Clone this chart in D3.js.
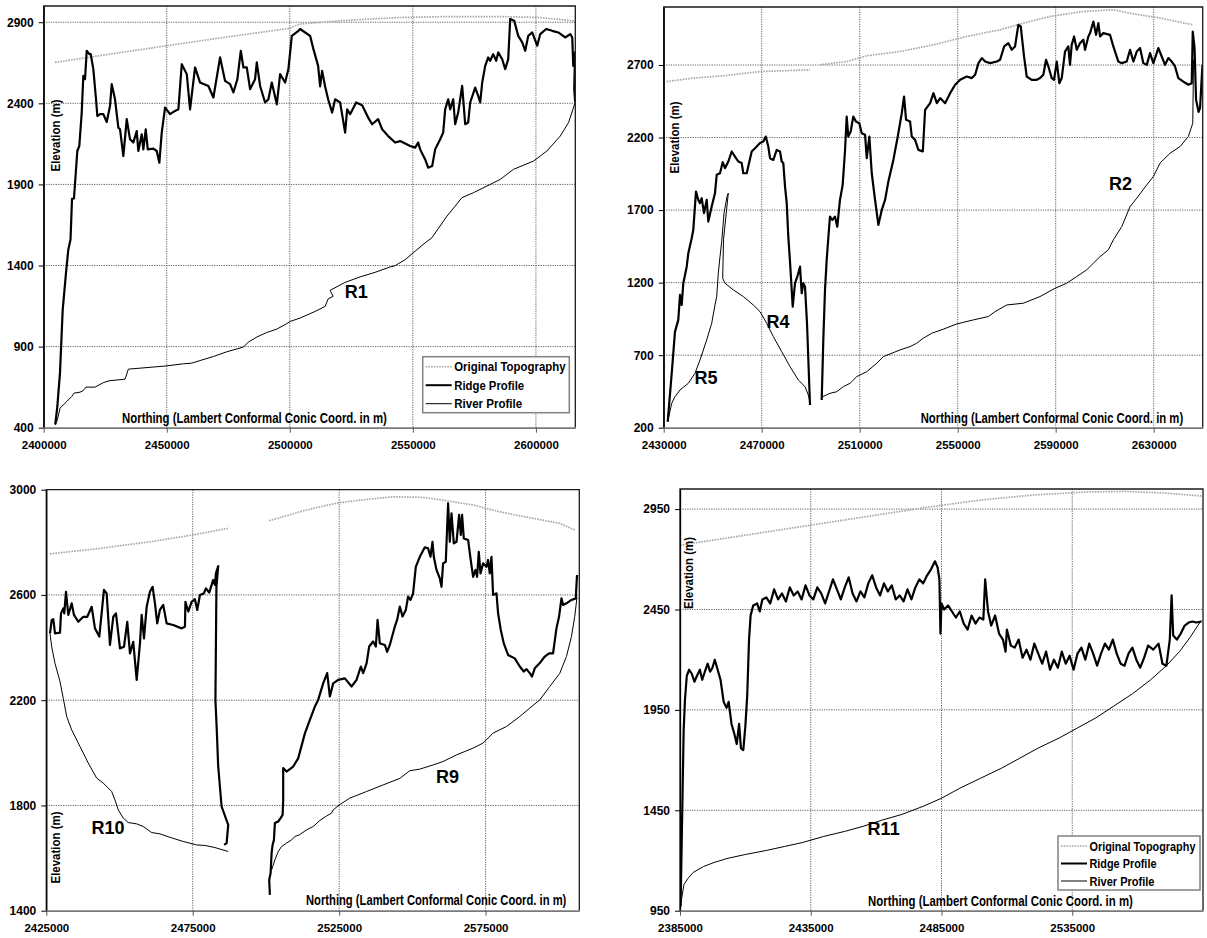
<!DOCTYPE html>
<html><head><meta charset="utf-8">
<script src="https://cdn.jsdelivr.net/npm/d3@7"></script>
<style>
html,body{margin:0;padding:0;background:#fff}
svg{display:block}
text{font-family:"Liberation Sans",Arial,Helvetica,sans-serif;font-weight:bold;fill:#000}
</style></head><body>
<svg id="chart" width="1207" height="938"></svg>
<script>
// ---------- Profile R1 ----------
const r1XTicks = [2400000, 2450000, 2500000, 2550000, 2600000];
const r1YTicks = [400, 900, 1400, 1900, 2400, 2900];
const r1Topo = [[2404590,2652],[2422890,2694],[2450000,2755],[2475730,2812],[2499840,2862],[2504180,2889],[2524510,2913],[2544840,2929],[2565160,2935],[2585490,2935],[2601750,2929],[2616000,2907]];
const r1Ridge = [[2404700,420],[2405530,530],[2406620,738],[2407720,1127],[2409070,1356],[2410000,1498],[2410900,1560],[2411500,1811],[2412300,1813],[2413660,2106],[2414470,2137],[2415450,2343],[2416100,2569],[2416790,2549],[2417480,2724],[2418540,2703],[2419100,2703],[2420160,2611],[2421260,2425],[2421790,2322],[2422890,2333],[2424230,2333],[2425610,2285],[2426950,2384],[2427640,2518],[2428980,2425],[2430330,2250],[2431020,2240],[2432360,2075],[2433740,2302],[2435080,2178],[2436420,2158],[2437800,2229],[2438450,2106],[2439840,2209],[2440490,2116],[2441460,2240],[2442280,2116],[2444550,2121],[2445930,2106],[2446990,2034],[2447960,2219],[2449310,2374],[2451340,2333],[2453370,2353],[2454720,2363],[2456100,2641],[2458130,2580],[2459470,2363],[2461500,2621],[2463540,2528],[2465170,2518],[2466910,2507],[2468950,2436],[2471670,2683],[2473700,2538],[2475730,2518],[2477070,2467],[2478700,2549],[2480080,2724],[2481140,2621],[2482520,2621],[2483860,2487],[2485890,2549],[2486580,2652],[2487930,2507],[2489960,2405],[2491300,2425],[2492680,2528],[2494720,2394],[2496060,2580],[2498090,2528],[2499430,2611],[2500810,2816],[2503500,2847],[2504180,2858],[2508240,2816],[2509600,2734],[2511500,2631],[2512320,2504],[2513130,2600],[2514350,2504],[2515570,2425],[2517200,2343],[2518410,2425],[2520450,2405],[2522480,2219],[2523300,2363],[2524510,2333],[2526950,2405],[2529390,2388],[2531830,2312],[2533450,2271],[2535890,2302],[2537520,2240],[2539960,2198],[2542800,2158],[2544840,2167],[2548900,2137],[2550930,2127],[2552150,2158],[2552970,2116],[2555000,2054],[2556220,2003],[2557840,2013],[2559060,2116],[2561100,2178],[2562320,2219],[2563130,2363],[2564350,2425],[2565160,2363],[2566380,2425],[2567190,2271],[2568410,2343],[2569220,2425],[2570030,2507],[2571260,2271],[2572480,2282],[2573290,2405],[2575320,2497],[2576540,2446],[2577360,2405],[2578170,2528],[2579390,2631],[2580610,2683],[2581420,2662],[2582640,2703],[2583860,2662],[2584670,2714],[2586300,2672],[2587520,2611],[2588740,2672],[2589550,2920],[2591180,2909],[2592810,2816],[2594440,2776],[2595660,2724],[2596870,2816],[2598500,2837],[2600530,2755],[2601750,2827],[2604190,2858],[2606630,2847],[2609070,2837],[2611910,2806],[2613950,2827],[2614760,2806],[2615170,2631],[2615900,2714],[2615570,2487],[2615950,2407]];
const r1River = [[2404715,417],[2405530,447],[2406620,520],[2409350,561],[2411380,592],[2412320,613],[2414760,619],[2416100,629],[2417200,650],[2420850,650],[2424230,678],[2426950,690],[2433050,699],[2434390,761],[2450000,781],[2456750,794],[2460160,798],[2463540,814],[2468950,839],[2474390,868],[2481140,897],[2483170,928],[2486580,959],[2490650,987],[2494720,1008],[2498500,1039],[2500120,1055],[2504180,1076],[2510280,1117],[2514350,1148],[2515570,1194],[2517600,1210],[2516380,1247],[2522480,1296],[2528580,1330],[2534670,1358],[2540770,1391],[2542800,1399],[2546870,1436],[2550120,1478],[2555000,1540],[2557720,1571],[2563820,1704],[2567190,1766],[2569910,1818],[2574630,1849],[2581420,1900],[2585490,1931],[2590890,1993],[2599030,2044],[2604470,2106],[2609880,2198],[2613250,2281],[2615040,2363],[2615950,2407]];
const r1Labels = [{text:"R1", n:2527000, e:1200}];

// ---------- Profiles R5, R4, R2 ----------
const r2XTicks = [2430000, 2470000, 2510000, 2550000, 2590000, 2630000];
const r2YTicks = [200, 700, 1200, 1700, 2200, 2700];
const r2TopoWest = [[2431230,2586],[2442090,2610],[2454330,2626],[2469310,2655],[2489720,2667]];
const r2TopoEast = [[2493800,2702],[2504700,2724],[2512870,2764],[2526460,2793],[2540050,2839],[2553690,2897],[2567280,2943],[2576790,2989],[2587700,3035],[2601290,3069],[2613530,3081],[2621700,3053],[2632590,3024],[2639400,3000],[2646220,2977]];
const r2RidgeWest = [[2431630,241],[2433270,575],[2434610,862],[2435960,943],[2436650,1115],[2437350,1046],[2438000,1196],[2439390,1310],[2440040,1403],[2441430,1506],[2442080,1564],[2443180,1828],[2444120,1770],[2444820,1748],[2445510,1782],[2446450,1679],[2447550,1770],[2448210,1621],[2449590,1724],[2450940,1817],[2451630,1943],[2452980,1954],[2454080,2030],[2455020,1989],[2456370,2035],[2457760,2104],[2459100,2069],[2460450,2035],[2461840,2024],[2462490,1954],[2463880,1954],[2465920,2104],[2467270,2127],[2469310,2162],[2470660,2173],[2471640,2207],[2472700,2138],[2473390,2058],[2474740,2046],[2476130,2115],[2477480,2104],[2478170,2035],[2478820,2024],[2479520,1862],[2480210,1748],[2480860,1517],[2481560,1343],[2482660,1035],[2483600,1196],[2484540,1241],[2485640,1310],[2486330,1127],[2486980,1196],[2487680,1172],[2488490,920],[2489720,357]];
const r2RidgeEast = [[2494490,391],[2495150,805],[2495840,1150],[2496530,1357],[2497180,1506],[2497870,1655],[2498810,1632],[2499910,1655],[2500850,1586],[2501950,1770],[2503050,1874],[2503990,2104],[2504690,2345],[2505340,2207],[2506320,2241],[2507380,2345],[2508500,2310],[2509840,2299],[2510830,2230],[2512190,2219],[2512880,2058],[2513940,2207],[2514920,1954],[2516270,1770],[2517620,1598],[2519000,1701],[2520350,1770],[2521700,1897],[2523740,2046],[2525540,2207],[2527170,2368],[2528110,2483],[2528930,2322],[2530560,2310],[2531260,2207],[2532610,2184],[2533960,2115],[2535760,2104],[2536700,2391],[2538740,2437],[2540090,2506],[2541480,2437],[2542830,2472],[2544870,2437],[2546910,2506],[2548960,2564],[2551000,2598],[2553730,2621],[2555770,2610],[2557120,2633],[2558460,2713],[2559850,2748],[2561200,2724],[2563240,2713],[2565970,2724],[2567280,2736],[2568960,2828],[2570680,2851],[2572050,2805],[2573400,2828],[2574750,2977],[2575730,2966],[2577080,2759],[2578170,2621],[2580220,2598],[2582260,2598],[2583610,2610],[2584960,2633],[2586060,2736],[2587020,2690],[2588380,2610],[2589320,2598],[2590430,2724],[2591490,2575],[2592460,2610],[2593800,2793],[2595150,2828],[2595840,2701],[2596530,2839],[2597500,2897],[2598600,2805],[2599940,2851],[2601290,2874],[2601980,2805],[2603330,2897],[2604020,2920],[2605370,3000],[2606470,2908],[2607410,2989],[2608100,2897],[2609450,2920],[2612180,2908],[2613530,2828],[2615570,2724],[2616960,2713],[2619000,2724],[2620350,2805],[2621700,2724],[2623080,2793],[2624430,2817],[2625780,2713],[2627160,2701],[2628510,2782],[2629860,2713],[2631900,2817],[2633280,2759],[2634630,2701],[2635980,2748],[2637360,2724],[2638710,2690],[2640060,2610],[2642100,2586],[2644140,2564],[2645530,2575],[2645940,2931],[2646670,2819],[2647290,2460],[2648310,2377],[2648920,2405],[2649900,2702]];
const r2RiverWest = [[2431630,241],[2433270,368],[2434610,414],[2436650,460],[2440040,506],[2442770,575],[2444820,667],[2447550,805],[2449590,920],[2450940,1046],[2451630,1104],[2452290,1265],[2452980,1379],[2453680,1483],[2454620,1679],[2455840,1793],[2456370,1817],[2454410,1495],[2454080,1230],[2455020,1196],[2458410,1150],[2462490,1104],[2466570,1046],[2469310,1000],[2472040,920],[2474740,828],[2478170,724],[2481560,621],[2484950,529],[2487680,483],[2489030,425],[2490010,357]];
const r2RiverEast = [[2494910,414],[2497890,437],[2500630,448],[2503320,483],[2506060,506],[2508790,552],[2512870,586],[2516950,644],[2519650,690],[2526460,736],[2530540,759],[2533270,782],[2535970,817],[2539400,851],[2544130,879],[2549600,915],[2556380,943],[2562500,966],[2565240,1000],[2570010,1046],[2576790,1058],[2583610,1104],[2589730,1161],[2594500,1196],[2598580,1242],[2602660,1288],[2605370,1334],[2608100,1379],[2611490,1426],[2613530,1495],[2616960,1586],[2620350,1724],[2623080,1782],[2627160,1874],[2629860,1931],[2632590,2024],[2636670,2092],[2640760,2138],[2644140,2207],[2645940,2299],[2646270,2736]];
const r2Labels = [{text:"R2", n:2616470, e:1839},{text:"R4", n:2476660, e:887},{text:"R5", n:2447270, e:501}];

// ---------- Profiles R10, R9 ----------
const r3XTicks = [2425000, 2475000, 2525000, 2575000];
const r3YTicks = [1400, 1800, 2200, 2600, 3000];
const r3TopoWest = [[2426260,2756],[2443330,2777],[2460390,2802],[2474970,2828],[2487120,2853]];
const r3TopoEast = [[2501110,2882],[2511590,2916],[2518410,2935],[2525240,2951],[2534360,2963],[2543440,2973],[2553680,2971],[2561660,2958],[2570740,2942],[2579850,2916],[2591220,2891],[2600320,2872],[2605450,2847]];
const r3RidgeWest = [[2426260,2454],[2426840,2505],[2427390,2508],[2427970,2454],[2429680,2457],[2430020,2530],[2430800,2549],[2431140,2530],[2431720,2612],[2432510,2524],[2433670,2568],[2434450,2524],[2435920,2498],[2437630,2517],[2438990,2517],[2440490,2555],[2441620,2473],[2443090,2442],[2444690,2619],[2445610,2606],[2446740,2410],[2447870,2517],[2448790,2530],[2450160,2397],[2451520,2403],[2452640,2498],[2453570,2378],[2454690,2422],[2455860,2277],[2456980,2416],[2457560,2524],[2458350,2435],[2459270,2555],[2460390,2612],[2461310,2631],[2462100,2568],[2462880,2492],[2463800,2543],[2464930,2562],[2466090,2492],[2468350,2486],[2471210,2473],[2472340,2479],[2472510,2574],[2473470,2537],[2474620,2574],[2475750,2584],[2476540,2543],[2477460,2600],[2478820,2606],[2479510,2625],[2480630,2609],[2481990,2657],[2482580,2638],[2482920,2682],[2483700,2710],[2483090,2631],[2482750,2201],[2483160,2100],[2483700,1948],[2484860,1796],[2487120,1726],[2486570,1657],[2485750,1650]];
const r3RiverWest = [[2426260,2454],[2426840,2403],[2427970,2340],[2429680,2271],[2430800,2207],[2431960,2138],[2433670,2087],[2436500,2024],[2439340,1961],[2442200,1904],[2444450,1885],[2447320,1853],[2448450,1821],[2449580,1783],[2451280,1752],[2452990,1735],[2455850,1730],[2458110,1720],[2460970,1697],[2463810,1692],[2467220,1679],[2471760,1663],[2476330,1650],[2479160,1648],[2482570,1640],[2487120,1625]];
const r3RidgeEast = [[2501350,1460],[2501110,1517],[2501590,1543],[2501930,1619],[2502270,1650],[2502720,1669],[2503060,1733],[2504190,1739],[2505010,1752],[2505690,1764],[2505890,1821],[2505890,1942],[2507050,1929],[2509300,1948],[2511010,1979],[2513300,2074],[2515000,2125],[2516710,2176],[2517840,2201],[2519540,2264],[2520910,2303],[2521830,2214],[2522960,2264],[2524660,2277],[2526950,2283],[2529240,2252],[2530940,2277],[2532410,2328],[2533200,2303],[2534360,2340],[2535250,2404],[2536610,2423],[2537530,2404],[2538110,2505],[2538890,2416],[2540600,2410],[2541380,2384],[2542300,2410],[2544010,2480],[2544790,2505],[2545720,2556],[2546630,2518],[2547760,2543],[2548540,2594],[2549360,2581],[2550250,2606],[2551170,2707],[2552540,2745],[2554250,2781],[2555370,2777],[2556190,2745],[2556870,2802],[2557320,2745],[2558240,2695],[2559370,2663],[2559950,2631],[2560490,2720],[2561410,2726],[2562200,2948],[2562780,2802],[2563360,2910],[2564150,2796],[2565070,2802],[2565960,2904],[2566540,2828],[2566980,2904],[2567560,2815],[2569030,2809],[2569850,2739],[2570740,2669],[2571560,2695],[2572100,2669],[2572680,2764],[2573260,2682],[2574150,2720],[2575310,2707],[2575850,2733],[2576430,2682],[2577010,2745],[2577560,2600],[2578720,2606],[2579270,2530],[2580190,2467],[2581210,2416],[2582680,2372],[2584970,2359],[2586680,2328],[2588040,2309],[2588960,2318],[2590090,2303],[2590870,2290],[2591790,2321],[2593500,2341],[2595200,2366],[2596670,2378],[2598040,2378],[2599200,2473],[2600090,2518],[2600910,2587],[2601450,2562],[2602610,2568],[2604320,2581],[2605790,2587],[2606230,2676]];
const r3RiverEast = [[2501930,1555],[2503060,1593],[2504190,1625],[2505350,1644],[2507050,1657],[2508760,1669],[2509880,1682],[2511350,1688],[2513880,1707],[2516130,1720],[2518410,1743],[2520700,1760],[2522400,1771],[2522960,1783],[2525010,1802],[2528660,1828],[2534360,1853],[2540030,1878],[2545720,1903],[2549130,1932],[2552540,1938],[2557080,1954],[2560490,1967],[2565070,1992],[2570740,2018],[2574150,2037],[2577560,2075],[2582130,2100],[2586680,2138],[2590090,2170],[2593500,2201],[2596910,2252],[2600320,2302],[2602610,2366],[2604320,2442],[2605450,2518],[2606230,2593]];
const r3Labels = [{text:"R10", n:2446060, e:1692},{text:"R9", n:2562030, e:1885}];

// ---------- Profile R11 ----------
const r4XTicks = [2385000, 2435000, 2485000, 2535000];
const r4YTicks = [950, 1450, 1950, 2450, 2950];
const r4Topo = [[2385000,2770],[2400000,2800],[2420000,2840],[2440000,2880],[2460000,2920],[2480000,2960],[2500000,2995],[2520000,3020],[2540000,3035],[2555000,3038],[2570000,3030],[2584500,3015]];
const r4Ridge = [[2385200,970],[2385600,1250],[2386000,1550],[2386400,1850],[2386900,2000],[2387600,2120],[2388500,2150],[2389500,2130],[2390500,2090],[2391500,2120],[2392600,2150],[2393500,2100],[2394500,2140],[2395600,2180],[2396500,2140],[2397400,2160],[2398300,2200],[2399400,2150],[2400500,2100],[2401700,1990],[2402800,1960],[2403600,1990],[2404700,1880],[2405800,1830],[2406700,1780],[2407600,1880],[2408300,1760],[2409200,1750],[2410000,1870],[2410700,2020],[2411400,2300],[2412000,2420],[2413000,2470],[2414500,2480],[2415500,2440],[2416500,2500],[2418000,2510],[2419500,2480],[2421000,2550],[2422500,2500],[2424000,2530],[2425500,2490],[2427000,2560],[2428500,2520],[2430000,2540],[2431500,2500],[2433000,2570],[2434500,2520],[2436000,2500],[2437500,2560],[2439000,2530],[2440500,2480],[2442000,2540],[2443500,2600],[2445000,2550],[2446500,2500],[2448000,2560],[2449500,2610],[2451000,2530],[2452500,2490],[2454000,2540],[2455500,2510],[2457000,2580],[2458500,2620],[2460000,2560],[2461500,2520],[2463000,2580],[2464500,2540],[2466000,2570],[2467500,2500],[2469000,2520],[2470500,2490],[2472000,2550],[2473500,2500],[2475000,2560],[2476500,2600],[2478000,2580],[2479500,2620],[2481000,2650],[2482500,2690],[2483500,2660],[2484200,2600],[2484600,2330],[2485000,2480],[2486000,2450],[2487500,2470],[2489000,2440],[2490500,2410],[2492000,2440],[2493500,2380],[2495000,2350],[2496500,2420],[2498000,2380],[2499500,2410],[2501000,2400],[2501700,2600],[2502800,2440],[2504000,2370],[2505500,2420],[2507000,2330],[2508500,2300],[2509500,2240],[2510000,2350],[2511500,2270],[2513000,2260],[2514500,2300],[2516000,2210],[2517500,2250],[2519000,2200],[2520500,2280],[2522000,2230],[2523500,2180],[2525000,2240],[2526500,2150],[2528000,2200],[2529500,2160],[2531000,2240],[2532500,2180],[2534000,2220],[2535500,2150],[2537000,2230],[2538500,2260],[2540000,2200],[2541500,2280],[2543000,2230],[2544500,2170],[2546000,2230],[2547500,2280],[2549000,2250],[2550500,2300],[2552000,2230],[2553500,2180],[2555000,2170],[2556500,2230],[2558000,2260],[2559500,2200],[2561000,2160],[2562500,2210],[2564000,2270],[2566000,2250],[2568000,2280],[2569500,2180],[2571000,2170],[2572300,2300],[2573000,2520],[2573600,2320],[2575000,2300],[2576500,2330],[2578000,2370],[2579500,2385],[2581000,2390],[2582500,2385],[2584400,2390]];
const r4River = [[2385000,960],[2385500,1000],[2386500,1080],[2388000,1110],[2390000,1140],[2394000,1170],[2398000,1190],[2403000,1210],[2410000,1230],[2418000,1250],[2425000,1270],[2432000,1290],[2440000,1320],[2448000,1345],[2455000,1370],[2462000,1400],[2470000,1430],[2478000,1470],[2485000,1510],[2492000,1560],[2500000,1610],[2508000,1660],[2515000,1710],[2522000,1760],[2530000,1810],[2537000,1860],[2544000,1910],[2551000,1970],[2558000,2030],[2565000,2100],[2571000,2170],[2576000,2240],[2580000,2310],[2583000,2370],[2584400,2395]];
const r4Labels = [{text:"R11", n:2462870, e:1327}];

const legendItems = ["Original Topography", "Ridge Profile", "River Profile"];
const axisTitleX = "Northing  (Lambert Conformal Conic Coord. in m)";
const axisTitleY = "Elevation  (m)";

// ---------- layout ----------
const panels = [
  { frame:{l:43.7, r:575.3, t:6, b:427.7}, xDomain:[2400000,2616000], yDomain:[400,3000],
    xTicks:r1XTicks, yTicks:r1YTicks, topo:[r1Topo], ridge:[r1Ridge], river:[r1River], labels:r1Labels,
    yTitle:{cx:55, cy:135.5, len:72}, xTitle:{x:122, y:422.5, len:265},
    legend:{x:422.7, y:356.7, w:146.6, h:56, lens:[111.5, 70, 68]} },
  { frame:{l:663.7, r:1202.7, t:7, b:427.7}, xDomain:[2430000,2650000], yDomain:[200,3100],
    xTicks:r2XTicks, yTicks:r2YTicks, topo:[r2TopoWest, r2TopoEast], ridge:[r2RidgeWest, r2RidgeEast], river:[r2RiverWest, r2RiverEast], labels:r2Labels,
    yTitle:{cx:674.2, cy:137.5, len:72}, xTitle:{x:920.7, y:423, len:262.6} },
  { frame:{l:46.3, r:579.3, t:489.7, b:910.7}, xDomain:[2425000,2607000], yDomain:[1400,3000],
    xTicks:r3XTicks, yTicks:r3YTicks, topo:[r3TopoWest, r3TopoEast], ridge:[r3RidgeWest, r3RidgeEast], river:[r3RiverWest, r3RiverEast], labels:r3Labels,
    yTitle:{cx:55.8, cy:847.5, len:72}, xTitle:{x:306, y:904.5, len:260.7} },
  { frame:{l:680, r:1203, t:489, b:910.7}, xDomain:[2385000,2585000], yDomain:[950,3050],
    xTicks:r4XTicks, yTicks:r4YTicks, topo:[r4Topo], ridge:[r4Ridge], river:[r4River], labels:r4Labels,
    yTitle:{cx:688, cy:573, len:72}, xTitle:{x:868, y:905.5, len:265},
    legend:{x:1058, y:836, w:142, h:54, lens:[106, 67, 65]} }
];

const svg = d3.select("#chart");
const styles = {
  topo:  {stroke:"#a8a8a8", width:1.7, dash:"1.6,1.1"},
  ridge: {stroke:"#000", width:2.2, dash:null},
  river: {stroke:"#000", width:1, dash:null}
};

// Text squeezed horizontally to a given run length (narrow bold face).
function fitText(parent, x, y, str, size, len, anchor, rotate) {
  const t = parent.append("text").style("font-size", size + "px")
    .attr("text-anchor", anchor || "start").text(str);
  const w = t.node().getComputedTextLength();
  const s = len ? len / w : 1;
  t.attr("transform", `translate(${x},${y})${rotate ? " rotate(" + rotate + ")" : ""} scale(${s},1)`);
  return t;
}

panels.forEach((p, i) => {
  const f = p.frame;
  const x = d3.scaleLinear().domain(p.xDomain).range([f.l, f.r]);
  const y = d3.scaleLinear().domain(p.yDomain).range([f.b, f.t]);
  const g = svg.append("g");

  // grid
  const grid = g.append("g").attr("stroke", "#606060").attr("stroke-width", 1).attr("stroke-dasharray", "1.2,1.2");
  p.xTicks.filter(v => x(v) > f.l + 2).forEach(v => {
    grid.append("line").attr("x1", x(v)).attr("x2", x(v)).attr("y1", f.t).attr("y2", f.b);
  });
  p.yTicks.filter(v => y(v) < f.b - 2 && y(v) > f.t + 2).forEach(v => {
    grid.append("line").attr("x1", f.l).attr("x2", f.r).attr("y1", y(v)).attr("y2", y(v));
  });

  // series
  const clipId = "clip" + i;
  g.append("clipPath").attr("id", clipId).append("rect")
    .attr("x", f.l).attr("y", f.t - 1).attr("width", f.r - f.l).attr("height", f.b - f.t + 1);
  const line = d3.line().x(d => x(d[0])).y(d => y(d[1]));
  const plot = g.append("g").attr("clip-path", `url(#${clipId})`);
  ["topo", "river", "ridge"].forEach(k => {
    p[k].forEach(s => {
      plot.append("path").datum(s).attr("d", line).attr("fill", "none")
        .attr("stroke", styles[k].stroke).attr("stroke-width", styles[k].width)
        .attr("stroke-dasharray", styles[k].dash).attr("stroke-linejoin", "round");
    });
  });

  // frame
  g.append("path").attr("d", `M${f.l},${f.b}V${f.t}H${f.r}V${f.b}`)
    .attr("fill", "none").attr("stroke", "#1a1a1a").attr("stroke-width", 1.3);

  // axes
  const ya = g.append("g").attr("transform", `translate(${f.l},0)`)
    .call(d3.axisLeft(y).tickValues(p.yTicks).tickSize(5).tickSizeOuter(0).tickPadding(5).tickFormat(d3.format("d")));
  ya.select(".domain").attr("stroke", "#000").attr("stroke-width", 1.3);
  ya.selectAll(".tick line").attr("stroke", "#000");
  ya.attr("font-family", null).attr("font-size", null);
  ya.selectAll("text").style("font-size", "12px");

  const xa = g.append("g").attr("transform", `translate(0,${f.b})`)
    .call(d3.axisBottom(x).tickValues(p.xTicks).tickSize(5).tickSizeOuter(0).tickPadding(8).tickFormat(d3.format("d")));
  xa.select(".domain").attr("stroke", "#7a7a7a").attr("stroke-width", 1.8);
  xa.selectAll(".tick line").attr("stroke", "#555");
  xa.attr("font-family", null).attr("font-size", null);
  xa.selectAll("text").style("font-size", "11.5px");

  // profile names
  p.labels.forEach(l => {
    g.append("text").attr("x", x(l.n)).attr("y", y(l.e)).attr("text-anchor", "middle")
      .style("font-size", "18px").text(l.text);
  });

  // legend
  if (p.legend) {
    const L = p.legend;
    const lg = g.append("g").attr("transform", `translate(${L.x},${L.y})`);
    lg.append("rect").attr("width", L.w).attr("height", L.h).attr("fill", "#fff")
      .attr("stroke", "#808080").attr("stroke-width", 1.5);
    const step = (L.h - 19) / 2;
    ["topo", "ridge", "river"].forEach((k, j) => {
      const cy = 10 + j * step;
      lg.append("line").attr("x1", 3).attr("x2", 29).attr("y1", cy).attr("y2", cy)
        .attr("stroke", styles[k].stroke).attr("stroke-width", k === "ridge" ? 2 : (k === "topo" ? 1.5 : 1))
        .attr("stroke-dasharray", styles[k].dash);
      fitText(lg, 31.5, cy + 4.5, legendItems[j], 13, L.lens[j], "start");
    });
  }

  // axis titles
  fitText(g, p.xTitle.x, p.xTitle.y, axisTitleX, 14, p.xTitle.len, "start");
  fitText(g, p.yTitle.cx + 4.5, p.yTitle.cy, axisTitleY, 12.5, p.yTitle.len, "middle", -90);
});
</script>
</body></html>
